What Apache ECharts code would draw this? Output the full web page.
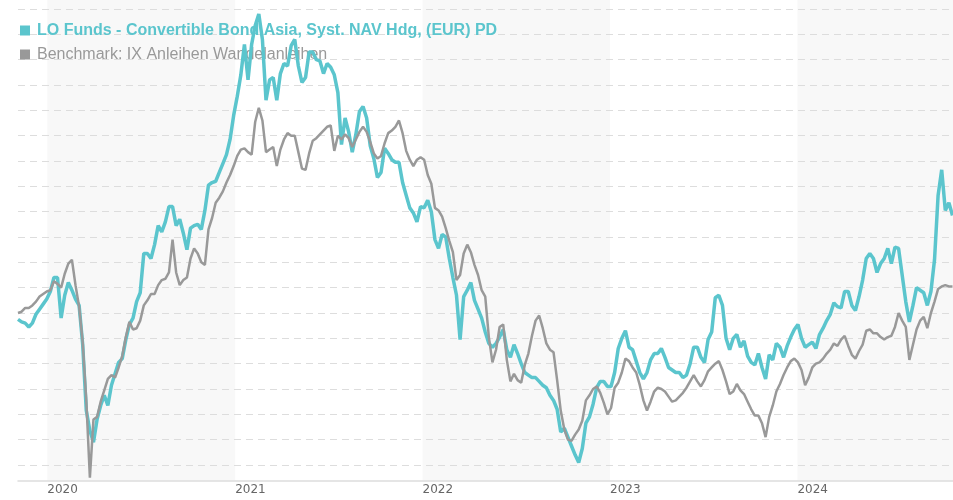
<!DOCTYPE html>
<html>
<head>
<meta charset="utf-8">
<script src="https://cdn.jsdelivr.net/npm/echarts@6/dist/echarts.min.js"></script>
<style>
  html, body { margin: 0; padding: 0; background: #ffffff; }
  #chart { width: 953px; height: 500px; }
</style>
</head>
<body>
<div id="chart"></div>
<script>
const fundName = "LO Funds - Convertible Bond Asia, Syst. NAV Hdg, (EUR) PD";
const benchName = "Benchmark: IX Anleihen Wandelanleihen";
const fundColor = "#5bc5cd";
const benchColor = "#999999";

// ein Wert pro Woche, erste Woche 05.11.2019
const firstWeek = [2019, 10, 5];
const lastDay = [2024, 9, 30];

// Fonds (indexiert)
const fundValues = [
  99.5, 99.3, 99.2, 98.9, 99.2, 99.9, 100.3, 100.7, 101.1, 101.7,
  102.8, 102.8, 99.6, 101.4, 102.4, 101.8, 101.1, 100.6, 97.5, 92.3,
  90.7, 89.8, 91.6, 92.7, 93.5, 92.7, 94.3, 95.2, 96.1, 96.4,
  97.9, 99.1, 99.6, 100.9, 101.6, 104.7, 104.7, 104.3, 105.4, 106.9,
  106.4, 107.2, 108.4, 108.4, 106.9, 107.4, 106.3, 105.0, 106.7, 106.9,
  107.0, 106.6, 108.1, 110.1, 110.3, 110.4, 111.1, 111.8, 112.5, 113.7,
  115.6, 117.1, 118.8, 121.2, 118.4, 121.2, 122.7, 123.6, 121.6, 116.8,
  118.4, 118.6, 116.8, 118.9, 119.7, 119.5, 121.1, 121.6, 119.5, 118.2,
  118.6, 120.6, 120.6, 120.0, 119.9, 118.9, 119.7, 119.4, 118.8, 117.4,
  113.3, 115.4, 114.3, 112.7, 114.1, 115.9, 116.3, 115.4, 113.2, 112.2,
  110.7, 111.1, 113.0, 112.6, 112.1, 111.9, 111.9, 110.3, 109.3, 108.3,
  107.9, 107.2, 108.4, 108.3, 108.9, 108.0, 105.8, 105.1, 106.2, 106.0,
  104.3, 102.8, 101.4, 97.9, 101.3, 101.8, 102.4, 101.0, 100.3, 99.6,
  98.5, 97.6, 97.3, 97.6, 98.1, 98.7, 97.1, 96.5, 97.5, 96.8,
  96.0, 95.3, 95.1, 94.9, 94.9, 94.6, 94.3, 94.1, 93.5, 93.1,
  92.4, 90.6, 90.9, 90.2, 89.5, 88.8, 88.2, 89.3, 91.3, 91.8,
  92.8, 94.1, 94.6, 94.6, 94.2, 94.2, 95.3, 97.2, 98.0, 98.6,
  97.3, 97.1, 96.2, 95.3, 94.8, 95.3, 96.3, 96.8, 96.8, 97.2,
  96.5, 95.7, 95.5, 95.3, 95.3, 94.9, 95.1, 96.0, 97.3, 97.3,
  96.5, 96.1, 97.9, 98.5, 101.2, 101.4, 100.6, 98.0, 97.1, 98.0,
  98.3, 97.3, 97.8, 96.6, 96.1, 95.9, 96.8, 95.7, 94.8, 96.7,
  96.3, 97.6, 97.3, 96.5, 97.4, 98.1, 98.7, 99.1, 98.0, 97.3,
  97.5, 97.7, 97.2, 98.3, 98.8, 99.4, 99.9, 100.8, 100.5, 100.4,
  101.7, 101.7, 100.6, 100.2, 101.3, 102.6, 104.3, 104.7, 104.3, 103.2,
  103.9, 104.3, 105.1, 103.9, 105.2, 105.1, 103.0, 100.9, 99.3, 100.6,
  102.0, 101.8, 101.6, 100.6, 101.7, 104.2, 109.3, 111.3, 108.1, 108.7,
  107.7
];

// Benchmark (indexiert)
const benchValues = [
  100.0, 100.1, 100.4, 100.4, 100.6, 100.9, 101.3, 101.5, 101.7, 101.8,
  102.5, 102.3, 102.0, 103.1, 103.9, 104.2, 102.2, 100.5, 97.7, 93.1,
  87.0, 91.6, 91.8, 93.0, 93.9, 94.8, 95.1, 94.9, 95.7, 96.6,
  98.1, 99.3, 98.7, 98.8, 99.4, 100.6, 101.0, 101.5, 101.5, 102.2,
  102.6, 102.7, 103.2, 105.8, 103.2, 102.2, 102.6, 102.8, 104.3, 105.1,
  104.7, 104.0, 103.8, 106.6, 107.5, 108.7, 109.1, 109.6, 110.3, 110.9,
  111.6, 112.4, 112.9, 113.0, 112.7, 112.5, 115.1, 116.2, 115.2, 112.7,
  112.9, 113.1, 111.6, 112.9, 113.7, 114.2, 114.0, 114.0, 112.7, 111.4,
  111.3, 112.6, 113.6, 113.8, 114.1, 114.4, 114.7, 114.8, 112.8, 114.0,
  113.7, 114.1, 113.8, 113.1, 113.7, 114.3, 114.7, 114.3, 113.5, 112.6,
  112.2, 112.4, 113.4, 114.2, 114.4, 114.7, 115.2, 114.2, 112.8, 112.1,
  111.6, 112.1, 112.3, 112.1, 110.9, 110.2, 108.3, 108.1, 107.6, 106.7,
  105.7, 104.8, 102.6, 103.0, 104.7, 105.4, 104.8, 103.8, 103.0, 101.8,
  101.3, 98.1, 96.1, 97.1, 98.9, 99.1, 96.3, 94.6, 95.2, 94.7,
  94.5, 95.9, 96.8, 98.2, 99.4, 99.8, 98.8, 97.6, 97.1, 96.9,
  94.7, 92.3, 90.8, 90.0, 89.9, 90.4, 90.8, 91.5, 93.1, 93.5,
  94.0, 94.2, 93.7, 92.9, 92.0, 92.5, 94.1, 94.5, 95.3, 96.4,
  96.2, 95.7, 95.3, 94.3, 93.1, 92.3, 93.0, 93.8, 94.1, 94.0,
  93.8, 93.4, 93.0, 93.1, 93.4, 93.7, 94.1, 94.6, 95.1, 94.6,
  94.2, 94.7, 95.4, 95.7, 96.0, 96.2, 95.5, 94.6, 93.6, 93.8,
  94.4, 93.9, 93.6, 93.0, 92.4, 91.9, 91.9, 91.3, 90.2, 91.8,
  92.7, 93.8, 94.4, 95.1, 95.7, 96.2, 96.4, 96.1, 95.5, 94.3,
  94.9, 95.7, 96.0, 96.1, 96.4, 96.8, 97.1, 97.6, 97.4, 97.9,
  98.2, 97.4, 96.7, 96.4, 97.0, 97.5, 98.6, 98.7, 98.4, 98.4,
  98.1, 97.9, 98.1, 98.2, 98.9, 100.0, 99.4, 98.9, 96.3, 97.5,
  98.7, 99.4, 99.7, 98.8, 100.0, 100.9, 101.9, 102.1, 102.2, 102.1,
  102.1
];

const weeks = fundValues.map((v, i) => new Date(firstWeek[0], firstWeek[1], firstWeek[2] + 7 * i));
const axisStart = new Date(firstWeek[0], firstWeek[1], firstWeek[2]);
const axisEnd = new Date(lastDay[0], lastDay[1], lastDay[2]);
const oneYear = 365 * 24 * 3600 * 1000;

let myChart = echarts.init(document.getElementById("chart"));
let option = {
  animation: false,
  color: [fundColor, benchColor],
  legend: {
    orient: "vertical",
    left: 20,
    top: 22,
    padding: 0,
    itemGap: 7,
    itemWidth: 10,
    itemHeight: 10,
    icon: "rect",
    selectedMode: false,
    z: 1,
    textStyle: {
      fontFamily: "Liberation Sans",
      fontSize: 16,
      lineHeight: 17,
      padding: [0, 0, 0, 2],
    },
    data: [
      { name: fundName, textStyle: { color: fundColor, fontWeight: "bold" } },
      { name: benchName, textStyle: { color: benchColor } },
    ],
  },
  grid: [
    { left: 18, right: 0, top: 0, height: 481 }, // Jahresbänder + Zeitachse
    { left: 18, right: 0, top: 9, height: 456 }, // Linien + Raster
  ],
  xAxis: [
    {
      type: "time",
      gridIndex: 0,
      min: axisStart,
      max: axisEnd,
      minInterval: oneYear,
      z: 0,
      splitLine: { show: false },
      splitArea: {
        show: true,
        areaStyle: { color: ["rgba(255,255,255,0)", "#f8f8f8"] },
      },
      axisLine: { show: true, lineStyle: { color: "#dddddd", width: 1.5 } },
      axisTick: { show: false },
      axisLabel: {
        formatter: (val) => String(new Date(val).getFullYear()),
        align: "left",
        showMinLabel: false,
        showMaxLabel: false,
        color: "#666666",
        fontFamily: "DejaVu Sans",
        fontSize: 12,
        margin: 3,
      },
    },
    {
      type: "time",
      gridIndex: 1,
      min: axisStart,
      max: axisEnd,
      show: false,
    },
  ],
  yAxis: [
    { type: "value", gridIndex: 0, min: 0, max: 1, show: false },
    {
      type: "value",
      gridIndex: 1,
      min: 88,
      max: 124,
      interval: 2,
      z: 1,
      axisLine: { show: false },
      axisTick: { show: false },
      axisLabel: { show: false },
      splitLine: {
        show: true,
        lineStyle: { color: "#dddddd", width: 1, type: [7, 5] },
      },
    },
  ],
  series: [
    {
      name: fundName,
      type: "line",
      xAxisIndex: 1,
      yAxisIndex: 1,
      symbol: "none",
      clip: false,
      lineStyle: { width: 3.5, color: fundColor },
      itemStyle: { color: fundColor },
      data: weeks.map((d, i) => [d, fundValues[i]]),
    },
    {
      name: benchName,
      type: "line",
      xAxisIndex: 1,
      yAxisIndex: 1,
      symbol: "none",
      clip: false,
      lineStyle: { width: 2.5, color: benchColor },
      itemStyle: { color: benchColor },
      data: weeks.map((d, i) => [d, benchValues[i]]),
    },
  ],
};
myChart.setOption(option);
</script>
</body>
</html>
